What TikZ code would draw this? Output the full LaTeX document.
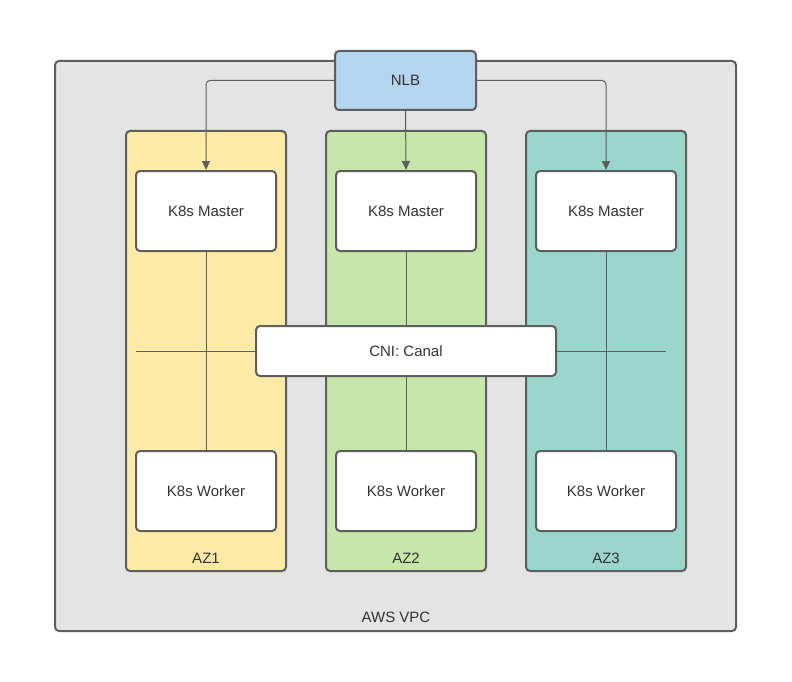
\documentclass[tikz,border=0pt]{standalone}
\usepackage{fontspec}
\setmainfont{Liberation Sans}
\usetikzlibrary{arrows.meta}
\definecolor{vpc}{HTML}{E4E4E4}
\definecolor{edge}{HTML}{5E5E5E}
\definecolor{nlb}{HTML}{B3D5EE}
\definecolor{az1}{HTML}{FEEAA7}
\definecolor{az2}{HTML}{C7E6AA}
\definecolor{az3}{HTML}{9AD6CC}
\begin{document}
\begin{tikzpicture}[x=1pt,y=-1pt,
  box/.style={draw=edge,line width=2pt,rounded corners=4pt},
  wbox/.style={box,fill=white},
  lbl/.style={font=\fontsize{15}{18}\selectfont,text=black!80},
  conn/.style={draw=edge,line width=1pt},
  arr/.style={conn,-{Triangle[length=9pt,width=8pt]},rounded corners=4pt}]
\useasboundingbox (0,0) rectangle (792,682);
\draw[box,fill=vpc] (55,61) rectangle (736,631);
\node[lbl] (vpcl) at (396,617) {AWS VPC};
\foreach \i/\x/\c in {1/126/az1,2/326/az2,3/526/az3}{
  \draw[box,fill=\c] (\x,131) rectangle ++(160,440);
  \node[lbl] (azl\i) at (\x+80,558) {AZ\i};
}
\draw[conn] (136,351) -- (666,351);
\foreach \i/\x in {1/136,2/336,3/536}{
  \node[wbox,minimum width=140pt,minimum height=80pt,lbl] (m\i) at (\x+70,211) {K8s Master};
  \node[wbox,minimum width=140pt,minimum height=80pt,lbl] (w\i) at (\x+70,491) {K8s Worker};
  \draw[conn] (m\i.south) -- (w\i.north);
}
\node[wbox,minimum width=300pt,minimum height=50pt,lbl] (cni) at (406,351) {CNI: Canal};
\node[box,fill=nlb,minimum width=141pt,minimum height=59pt,lbl] (nlb) at (405.5,80.5) {NLB};
\draw[arr] (nlb.west) -| (m1.north);
\draw[arr] (nlb.south) -- (m2.north);
\draw[arr] (nlb.east) -| (m3.north);
\end{tikzpicture}
\end{document}
